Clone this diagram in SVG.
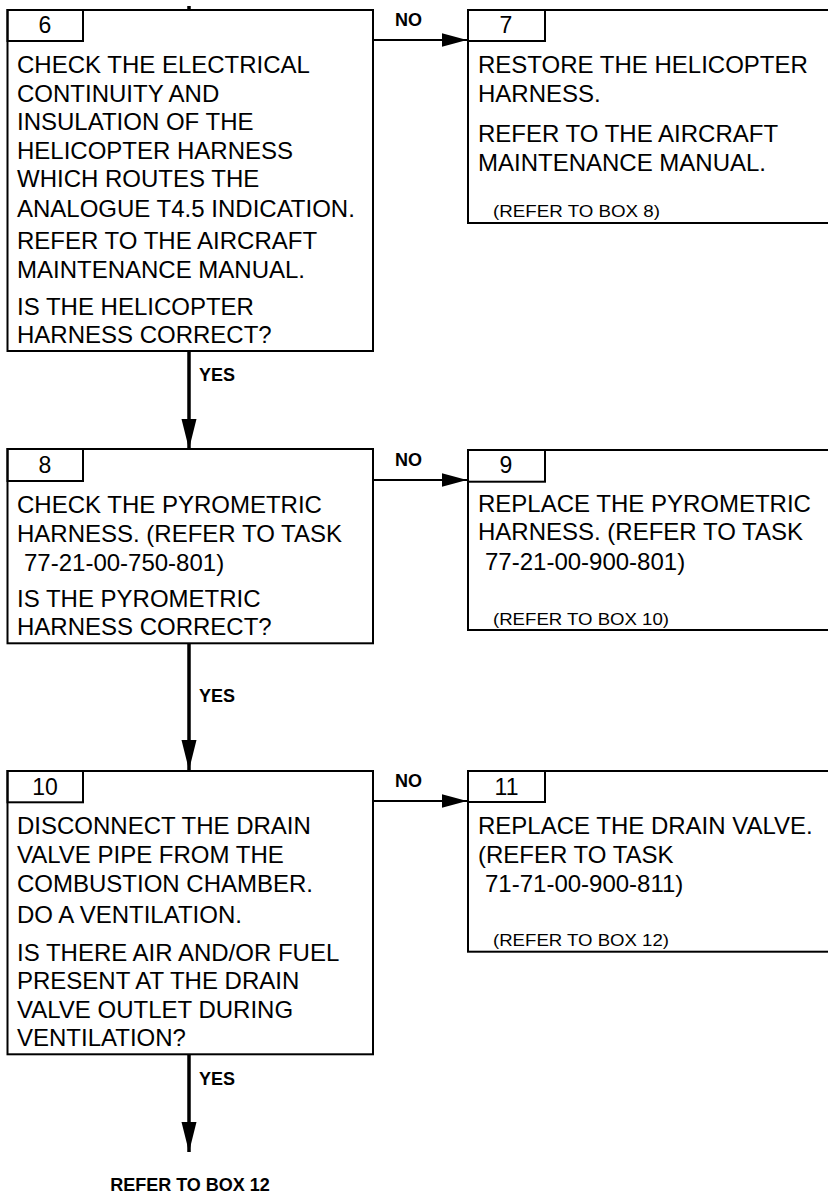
<svg xmlns="http://www.w3.org/2000/svg" width="828" height="1193" viewBox="0 0 828 1193">
<style>
.box{fill:#fff;stroke:#000;stroke-width:2}
.tab{fill:none;stroke:#000;stroke-width:2}
.t{font-family:"Liberation Sans",Arial,sans-serif;font-size:24px;fill:#000}
.n{font-family:"Liberation Sans",Arial,sans-serif;font-size:23px;fill:#000;text-anchor:middle}
.s{font-family:"Liberation Sans",Arial,sans-serif;font-size:17px;fill:#000}
.lb{font-family:"Liberation Sans",Arial,sans-serif;font-size:18px;font-weight:bold;fill:#000}
.h{stroke:#000;stroke-width:2;fill:none}
.v{stroke:#000;stroke-width:3.5;fill:none}
</style>
<defs>
<marker id="ah" markerUnits="userSpaceOnUse" markerWidth="26" markerHeight="14" refX="25" refY="6.7" orient="auto"><path d="M0,0 L25,6.7 L0,13.4 Z" fill="#000"/></marker>
<marker id="av" markerUnits="userSpaceOnUse" markerWidth="31" markerHeight="16" refX="30" refY="7.5" orient="auto"><path d="M0,0 L30,7.5 L0,15 Z" fill="#000"/></marker>
</defs>
<g id="connectors">
<line class="v" x1="189" y1="6" x2="189" y2="10"/>
<line class="h" x1="373" y1="40" x2="467" y2="40" marker-end="url(#ah)"/>
<line class="h" x1="373" y1="480" x2="467" y2="480" marker-end="url(#ah)"/>
<line class="h" x1="373" y1="801" x2="467" y2="801" marker-end="url(#ah)"/>
<line class="v" x1="189" y1="351" x2="189" y2="449" marker-end="url(#av)"/>
<line class="v" x1="189" y1="643" x2="189" y2="770" marker-end="url(#av)"/>
<line class="v" x1="189" y1="1054" x2="189" y2="1152" marker-end="url(#av)"/>
<text class="lb" x="395" y="26">NO</text>
<text class="lb" x="395" y="466">NO</text>
<text class="lb" x="395" y="787">NO</text>
<text class="lb" x="199" y="381">YES</text>
<text class="lb" x="199" y="702">YES</text>
<text class="lb" x="199" y="1085">YES</text>
</g>
<g id="box6">
<rect class="box" x="7.5" y="10" width="365.5" height="341"/>
<rect class="tab" x="7.5" y="10" width="75.5" height="31"/>
<text class="n" x="45" y="33">6</text>
<text class="t" x="17" y="73">CHECK THE ELECTRICAL</text>
<text class="t" x="17" y="101.6">CONTINUITY AND</text>
<text class="t" x="17" y="130.2">INSULATION OF THE</text>
<text class="t" x="17" y="158.8">HELICOPTER HARNESS</text>
<text class="t" x="17" y="187.4">WHICH ROUTES THE</text>
<text class="t" x="17" y="216.5">ANALOGUE T4.5 INDICATION.</text>
<text class="t" x="17" y="249">REFER TO THE AIRCRAFT</text>
<text class="t" x="17" y="277.8">MAINTENANCE MANUAL.</text>
<text class="t" x="17" y="314.6">IS THE HELICOPTER</text>
<text class="t" x="17" y="343">HARNESS CORRECT?</text>
</g>
<g id="box7">
<rect class="box" x="468" y="10" width="380" height="213"/>
<rect class="tab" x="468" y="10" width="77" height="31"/>
<text class="n" x="506" y="33">7</text>
<text class="t" x="478" y="73.3">RESTORE THE HELICOPTER</text>
<text class="t" x="478" y="101.7">HARNESS.</text>
<text class="t" x="478" y="141.7">REFER TO THE AIRCRAFT</text>
<text class="t" x="478" y="170.7">MAINTENANCE MANUAL.</text>
<text class="s" x="493" y="216.5" textLength="167" lengthAdjust="spacingAndGlyphs">(REFER TO BOX 8)</text>
</g>
<g id="box8">
<rect class="box" x="7.5" y="449" width="365.5" height="194.3"/>
<rect class="tab" x="7.5" y="449" width="75.5" height="32"/>
<text class="n" x="45" y="473">8</text>
<text class="t" x="17" y="512.7">CHECK THE PYROMETRIC</text>
<text class="t" x="17" y="541.7">HARNESS. (REFER TO TASK</text>
<text class="t" x="24" y="570.7">77-21-00-750-801)</text>
<text class="t" x="17" y="606.7">IS THE PYROMETRIC</text>
<text class="t" x="17" y="635">HARNESS CORRECT?</text>
</g>
<g id="box9">
<rect class="box" x="468" y="450" width="380" height="180"/>
<rect class="tab" x="468" y="450" width="77" height="31.7"/>
<text class="n" x="506" y="473">9</text>
<text class="t" x="478" y="511.7">REPLACE THE PYROMETRIC</text>
<text class="t" x="478" y="540">HARNESS. (REFER TO TASK</text>
<text class="t" x="485" y="570">77-21-00-900-801)</text>
<text class="s" x="493" y="625" textLength="176" lengthAdjust="spacingAndGlyphs">(REFER TO BOX 10)</text>
</g>
<g id="box10">
<rect class="box" x="7.5" y="771" width="365.5" height="283.3"/>
<rect class="tab" x="7.5" y="771" width="75.5" height="31.3"/>
<text class="n" x="45" y="795">10</text>
<text class="t" x="17" y="834.3">DISCONNECT THE DRAIN</text>
<text class="t" x="17" y="863">VALVE PIPE FROM THE</text>
<text class="t" x="17" y="891.7">COMBUSTION CHAMBER.</text>
<text class="t" x="17" y="923.3">DO A VENTILATION.</text>
<text class="t" x="17" y="960.7">IS THERE AIR AND/OR FUEL</text>
<text class="t" x="17" y="989.3">PRESENT AT THE DRAIN</text>
<text class="t" x="17" y="1017.7">VALVE OUTLET DURING</text>
<text class="t" x="17" y="1046">VENTILATION?</text>
</g>
<g id="box11">
<rect class="box" x="468" y="771" width="380" height="180.7"/>
<rect class="tab" x="468" y="771" width="77" height="31"/>
<text class="n" x="506.5" y="795">11</text>
<text class="t" x="478" y="834">REPLACE THE DRAIN VALVE.</text>
<text class="t" x="478" y="862.7">(REFER TO TASK</text>
<text class="t" x="485" y="891.7">71-71-00-900-811)</text>
<text class="s" x="493" y="946" textLength="176" lengthAdjust="spacingAndGlyphs">(REFER TO BOX 12)</text>
</g>
<g id="ref12">
<text class="lb" x="190" y="1191" text-anchor="middle">REFER TO BOX 12</text>
</g>
</svg>
